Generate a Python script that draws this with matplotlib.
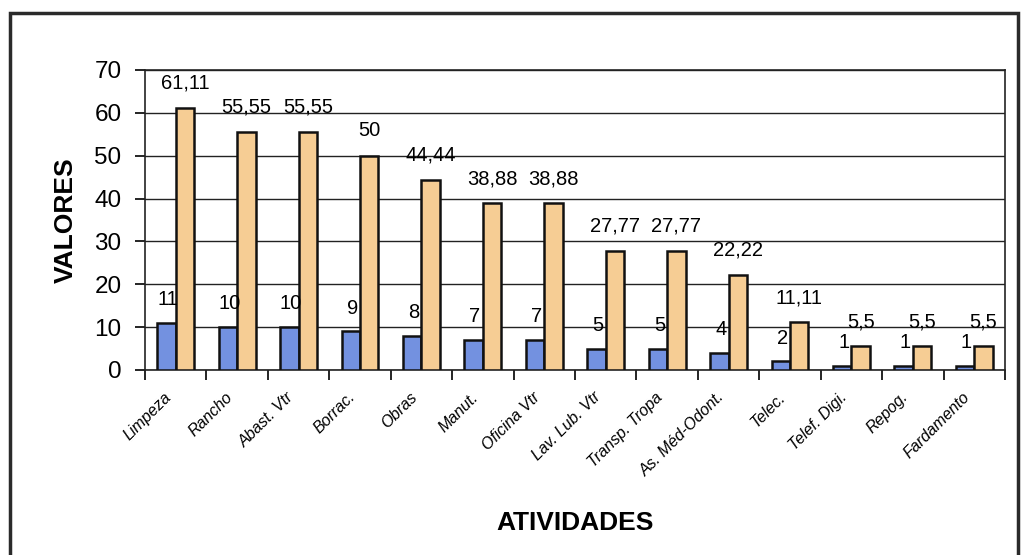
import numpy as np
import matplotlib.pyplot as plt
from matplotlib.patches import Rectangle

#------ Datos -------
atividades = ['Limpeza', 'Rancho', 'Abast. Vtr', 'Borrac.', 'Obras', 'Manut.',
              'Oficina Vtr', 'Lav. Lub. Vtr', 'Transp. Tropa', 'As. Méd-Odont.',
              'Telec.', 'Telef. Digi.', 'Repog.', 'Fardamento']
cantidad   = [11, 10, 10, 9, 8, 7, 7, 5, 5, 4, 2, 1, 1, 1]
porcentaje = [61.11, 55.55, 55.55, 50, 44.44, 38.88, 38.88, 27.77, 27.77,
              22.22, 11.11, 5.5, 5.5, 5.5]

def fmt(v):
    s = ('%.2f' % v).rstrip('0').rstrip('.')
    return s.replace('.', ',')

plt.rcParams['font.family'] = ['Liberation Sans', 'DejaVu Sans']

fig = plt.figure(figsize=(10.24, 5.55), dpi=100)
fig.patch.set_facecolor('white')

# marco exterior
fig.patches.append(Rectangle((10/1024, -0.02), 1008/1024, 1 - 13/555 + 0.02,
                             transform=fig.transFigure, fill=False,
                             edgecolor='#2a2a2a', linewidth=2.5))

ax = fig.add_axes([145/1024, 1 - 370/555, 860/1024, 300/555])

x = np.arange(len(atividades)) + 0.5
w = 0.3
b1 = ax.bar(x - w/2, cantidad, w, color='#7391e0', edgecolor='#111111', linewidth=1.8, zorder=3)
b2 = ax.bar(x + w/2, porcentaje, w, color='#f6cd94', edgecolor='#111111', linewidth=1.8, zorder=3)

for rect, v in zip(b1, cantidad):
    ax.annotate(fmt(v), (rect.get_x() + rect.get_width()/2, v), xytext=(1, 10),
                textcoords='offset points', ha='center', va='bottom', fontsize=14.5)
for rect, v in zip(b2, porcentaje):
    ax.annotate(fmt(v), (rect.get_x() + rect.get_width()/2, v), xytext=(0, 11),
                textcoords='offset points', ha='center', va='bottom', fontsize=14.5)

ax.set_xlim(0, len(atividades))
ax.set_ylim(0, 70)
ax.set_yticks(np.arange(0, 71, 10))
ax.set_xticks(np.arange(0, len(atividades) + 1))
ax.set_xticklabels([])
# etiquetas un poco a la izquierda del centro de cada categoria
ax.set_xticks(x - 0.2, minor=True)
ax.set_xticklabels(atividades, minor=True, rotation=45, ha='right', rotation_mode='anchor',
                   fontsize=11.5, style='italic')
ax.tick_params(axis='x', which='minor', length=0, pad=14)
ax.tick_params(axis='x', which='major', length=7, width=1.2, direction='out')
ax.tick_params(axis='y', length=7, width=1.2, labelsize=17.5, pad=10)
ax.grid(axis='y', color='#222222', linewidth=1.0, zorder=0)
for s in ax.spines.values():
    s.set_linewidth(1.2)
    s.set_color('#222222')

ax.set_ylabel('VALORES', fontsize=19, fontweight='bold', labelpad=12)
fig.text(575/1024, 1 - 523/555, 'ATIVIDADES', fontsize=19, fontweight='bold',
         ha='center', va='center')

fig.savefig('out.png', dpi=100)
